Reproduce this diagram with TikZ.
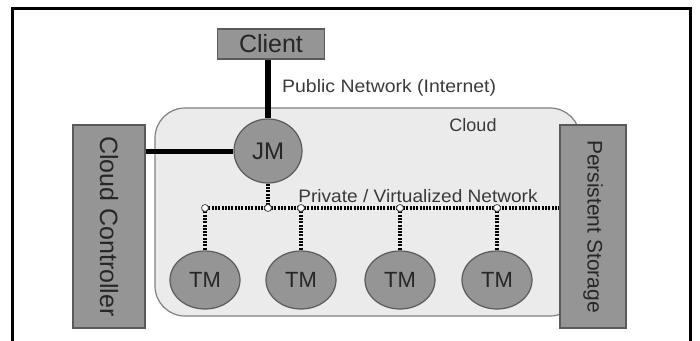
\documentclass[tikz,border=0pt]{standalone}
\usepackage{fontspec}
\setmainfont{Liberation Sans}
\usetikzlibrary{shapes.geometric}
\definecolor{boxgray}{HTML}{959595}
\definecolor{cloudgray}{HTML}{EBEBEB}
\definecolor{edgegray}{HTML}{5A5A5A}
\definecolor{labelgray}{HTML}{3A3A3A}
\tikzset{
  graybox/.style={draw=edgegray, line width=1.2pt, fill=boxgray, inner sep=0pt, text=black!85},
  mgr/.style={ellipse, draw=edgegray, line width=1.2pt, fill=boxgray, inner sep=0pt, text=black!85},
  publine/.style={line width=6pt, black},
  privline/.style={line width=4.5pt, black, dash pattern=on 2pt off 1.3pt},
  junction/.style={circle, draw=black!70, fill=white, line width=0.8pt, minimum size=7pt, inner sep=0pt},
  lbl/.style={text=labelgray, inner sep=0pt}
}
\begin{document}
\begin{tikzpicture}[x=1pt,y=-1pt]
\useasboundingbox (0,0) rectangle (700,340);
% frame
\draw[line width=3pt, black] (12,341) -- (12,8.5) -- (690,8.5) -- (690,341);
% cloud area
\draw[draw=black!50, line width=1.2pt, fill=cloudgray, rounded corners=30pt] (155,108) rectangle (580,316);
\node[lbl, font=\fontsize{18}{20}\selectfont] (cloudlbl) at (473,125) {Cloud};
% boxes
\node[graybox, minimum width=107pt, minimum height=30pt, font=\fontsize{25}{27}\selectfont] (client) at (271,44) {Client};
\node[graybox, minimum height=72pt, minimum width=203pt, rotate=-90, font=\fontsize{25}{27}\selectfont] (cc) at (109,226.5) {Cloud Controller};
\node[graybox, minimum height=66pt, minimum width=203pt, rotate=-90, font=\fontsize{21}{23}\selectfont] (ps) at (593,226.5) {Persistent Storage};
% managers
\node[mgr, minimum width=68pt, minimum height=64pt, font=\fontsize{24}{26}\selectfont] (jm) at (268,151) {JM};
\foreach \i/\x in {1/205,2/301,3/400,4/497}{
  \node[mgr, minimum width=70pt, minimum height=58pt, font=\fontsize{22}{24}\selectfont] (tm\i) at (\x,280) {TM};
}
% junction points
\coordinate (j0) at (205,208);
\coordinate (j1) at (268,208);
\coordinate (j2) at (301,208);
\coordinate (j3) at (400,208);
\coordinate (j4) at (497,208);
% public network
\draw[publine] (jm.north) -- (jm.north |- client.south);
\draw[publine, line width=5pt] (cc.north |- jm.west) -- (jm.west);
\node[lbl, anchor=west, font=\fontsize{18}{20}\selectfont, xscale=1.08] (publbl) at (282,88) {Public Network (Internet)};
% private network
\draw[privline] (j0) -- (ps.south |- j0);
\draw[privline] (jm.south) -- (j1);
\foreach \i/\j in {1/0,2/2,3/3,4/4}{
  \draw[privline] (j\j) -- (tm\i.north);
}
\foreach \j in {0,1,2,3,4}{
  \node[junction] (n\j) at (j\j) {};
}
\node[lbl, font=\fontsize{18}{20}\selectfont, xscale=1.06] (privlbl) at (418,196) {Private / Virtualized Network};
\end{tikzpicture}
\end{document}
